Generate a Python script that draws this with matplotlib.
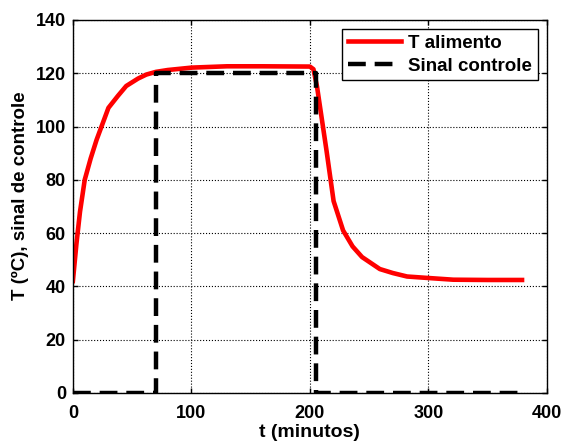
import matplotlib
matplotlib.use('Agg')
from matplotlib import pyplot as plt

# dados
t_alim = [0, 3, 6, 10, 15, 20, 30, 38, 45, 55, 62, 70, 80, 100, 130, 160, 200, 203,
          206, 214, 220, 228, 236, 244, 259, 270, 282, 298, 321, 350, 379]
T_alim = [42, 56, 68, 80, 88, 95, 107, 111.5, 115.2, 118, 119.5, 120.5, 121.2, 122.1,
          122.6, 122.6, 122.5, 121.5, 115, 91, 72, 61, 55, 51, 46.5, 45, 43.7, 43.2,
          42.5, 42.4, 42.4]

t_ctrl = [0, 70, 70, 205, 205, 379]
u_ctrl = [0, 0, 120, 120, 0, 0]

plt.rcParams['font.family'] = ['Liberation Sans', 'DejaVu Sans']
plt.rcParams['font.weight'] = 'bold'

fig = plt.figure(figsize=(5.65, 4.43), dpi=100)
ax = fig.add_axes([0.129, 0.113, 0.839, 0.842])

ax.plot(t_alim, T_alim, color='red', linewidth=3.3, label='T alimento')
ax.plot(t_ctrl, u_ctrl, color='black', linewidth=3.2, linestyle=(0, (4, 2)),
        label='Sinal controle')

ax.set_xlim(0, 400)
ax.set_ylim(0, 140)
ax.set_xticks([0, 100, 200, 300, 400])
ax.set_yticks(range(0, 141, 20))
ax.grid(True, linestyle=':', color='black', linewidth=0.8)
ax.tick_params(direction='in', top=True, right=True, labelsize=13, width=1)
ax.tick_params(axis='x', pad=9)
ax.tick_params(axis='y', pad=5)
for s in ax.spines.values():
    s.set_linewidth(1)
for lab in ax.get_xticklabels() + ax.get_yticklabels():
    lab.set_fontweight('bold')

ax.set_xlabel('t (minutos)', fontsize=14, fontweight='bold', labelpad=1)
ax.set_ylabel('T (ºC), sinal de controle', fontsize=13.5, fontweight='bold')
ax.yaxis.set_label_coords(-0.093, 0.53)

leg = ax.legend(loc='upper right', fontsize=13.5, fancybox=False, framealpha=1,
                edgecolor='black', handlelength=2.8, borderpad=0.3,
                labelspacing=0.3, handletextpad=0.4, borderaxespad=0.5)
leg.get_frame().set_linewidth(1)

fig.savefig('out.png', dpi=100)
